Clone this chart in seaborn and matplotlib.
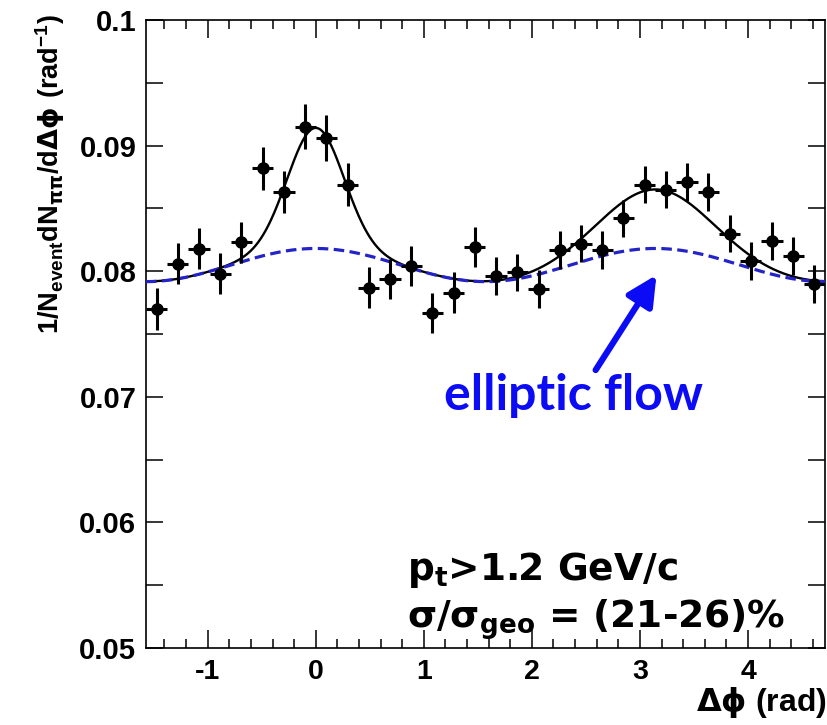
import numpy as np
import pandas as pd
import matplotlib
matplotlib.use("Agg")
import matplotlib.pyplot as plt
from matplotlib.ticker import FixedLocator, FixedFormatter, MultipleLocator
import seaborn as sns

# ---- binning of the azimuthal pair correlation: 32 bins over [-pi/2, 3pi/2)
n_bins = 32
phi_lo = -np.pi / 2
phi_hi = 3 * np.pi / 2

# per-event pi-pi pair yield in each bin and its statistical error
pair_yield = [
    0.0770, 0.0806, 0.0818, 0.0798, 0.0823, 0.0882, 0.0863, 0.0915,
    0.0906, 0.0869, 0.0787, 0.0794, 0.0804, 0.0767, 0.0783, 0.0819,
    0.0796, 0.0799, 0.0786, 0.0817, 0.0822, 0.0817, 0.0842, 0.0869,
    0.0865, 0.0871, 0.0863, 0.0830, 0.0808, 0.0824, 0.0812, 0.0790,
]
pair_yield_err = [
    0.00166, 0.00165, 0.00165, 0.00165, 0.00165, 0.00170, 0.00170, 0.00180,
    0.00180, 0.00170, 0.00160, 0.00160, 0.00160, 0.00160, 0.00160, 0.00160,
    0.00150, 0.00150, 0.00150, 0.00150, 0.00150, 0.00150, 0.00150, 0.00150,
    0.00150, 0.00150, 0.00150, 0.00150, 0.00150, 0.00150, 0.00150, 0.00150,
]

# fit: elliptic-flow modulated background + near- and away-side Gaussians
flow_base = 0.08049
flow_cos2 = 0.00132
near_amp, near_width = 0.0096, 0.26
away_amp, away_width = 0.0047, 0.50

y_ticks = [0.05, 0.06, 0.07, 0.08, 0.09, 0.1]
y_tick_labels = ["0.05", "0.06", "0.07", "0.08", "0.09", "0.1"]
x_ticks = [-1, 0, 1, 2, 3, 4]
x_tick_labels = ["-1", "0", "1", "2", "3", "4"]

label_ylab = (r"$\mathbf{1/N_{event}dN}_{\pi\pi}\mathbf{/d}\Delta\phi\ "
              r"\mathbf{(rad^{-1})}$")
label_xlab = r"$\Delta\phi$ (rad)"
label_flow = "elliptic flow"
label_cut1 = r"$\mathbf{p_t}$>1.2 GeV/c"
label_cut2 = r"$\mathbf{\sigma/\sigma_{geo}}$ = (21-26)%"

# ---------------------------------------------------------------------------
sns.set_style("ticks")
plt.rcParams.update({
    "font.family": ["Liberation Sans", "DejaVu Sans"],
    "font.weight": "bold",
    "text.color": "black",
    "axes.labelcolor": "black",
    "xtick.color": "black",
    "ytick.color": "black",
    "axes.edgecolor": "black",
    "axes.unicode_minus": False,
    "mathtext.fontset": "custom",
    "mathtext.rm": "DejaVu Sans",
    "mathtext.it": "DejaVu Sans",
    "mathtext.bf": "Liberation Sans:bold",
})

W, H = 828, 725
fig = plt.figure(figsize=(W / 100, H / 100), dpi=100)
fig.patch.set_facecolor("white")
ax = fig.add_axes([146 / W, 1 - 648 / H, (825 - 146) / W, 628 / H])

edges = np.linspace(phi_lo, phi_hi, n_bins + 1)
centers = 0.5 * (edges[:-1] + edges[1:])
half_bin = 0.5 * (edges[1] - edges[0])

grid = np.linspace(phi_lo, phi_hi, 800)
flow = flow_base + flow_cos2 * np.cos(2 * grid)
jets = np.zeros_like(grid)
for k in (-1, 0, 1):
    shift = 2 * np.pi * k
    jets += near_amp * np.exp(-(grid - shift) ** 2 / (2 * near_width ** 2))
    jets += away_amp * np.exp(-(grid - np.pi - shift) ** 2 / (2 * away_width ** 2))
curves = pd.DataFrame({"dphi": grid, "flow": flow, "total": flow + jets})

sns.lineplot(data=curves, x="dphi", y="total", ax=ax, color="black",
             lw=1.7, estimator=None, zorder=3)
sns.lineplot(data=curves, x="dphi", y="flow", ax=ax, color="#2323c8",
             lw=2.3, estimator=None, zorder=4, linestyle=(0, (3.3, 1.7)))

ax.errorbar(centers, pair_yield, yerr=pair_yield_err, xerr=half_bin,
            fmt="none", ecolor="black", elinewidth=2.2, capsize=0, zorder=5)
pts = pd.DataFrame({"dphi": centers, "y": pair_yield})
sns.scatterplot(data=pts, x="dphi", y="y", ax=ax, s=82, color="black",
                edgecolor="black", linewidth=0, zorder=6)

ax.set_xlim(phi_lo, phi_hi)
ax.set_ylim(0.05, 0.1)
ax.set_xlabel("")
ax.set_ylabel("")

ax.yaxis.set_major_locator(FixedLocator(y_ticks))
ax.yaxis.set_major_formatter(FixedFormatter(y_tick_labels))
ax.yaxis.set_minor_locator(MultipleLocator(0.005))
ax.xaxis.set_major_locator(FixedLocator(x_ticks))
ax.xaxis.set_major_formatter(FixedFormatter(x_tick_labels))
ax.xaxis.set_minor_locator(MultipleLocator(0.2))

ax.tick_params(axis="both", which="both", direction="in", top=True, right=True,
               color="black", width=1.1, labelcolor="black")
ax.tick_params(axis="y", which="both", length=12, pad=7, labelsize=21)
ax.tick_params(axis="x", which="major", length=13, pad=8, labelsize=20.5)
ax.tick_params(axis="x", which="minor", length=6.5)
for lab in ax.get_xticklabels() + ax.get_yticklabels():
    lab.set_fontweight("bold")
for sp in ax.spines.values():
    sp.set_linewidth(1.2)
    sp.set_color("black")

# axis titles
fig.text(50 / W, 1 - 14 / H, label_ylab, rotation=90, ha="center", va="top",
         fontsize=19.5, fontweight="bold", color="black")
fig.text(827 / W, 1 - 702 / H, label_xlab, ha="right", va="center",
         fontsize=23, fontweight="bold", color="black")

# flow annotation with arrow
blue = "#0b0bf5"
ax.annotate("", xy=(3.153, 0.0797), xytext=(2.59, 0.07213),
            arrowprops=dict(arrowstyle="-|>,head_length=0.9,head_width=0.45",
                            color=blue, lw=4.5, mutation_scale=20,
                            shrinkA=0, shrinkB=0), zorder=7)
ax.text(2.382, 0.06895, label_flow, color=blue, fontsize=36,
        fontfamily="Lato", fontweight="bold", ha="center", va="baseline",
        zorder=7)

# selection cuts
ax.text(0.843, 0.05541, label_cut1, fontsize=27, fontfamily="DejaVu Sans",
        fontweight="bold", math_fontfamily="dejavusans", ha="left",
        va="baseline", color="black", zorder=7)
ax.text(0.843, 0.05159, label_cut2, fontsize=27, fontfamily="DejaVu Sans",
        fontweight="bold", math_fontfamily="dejavusans", ha="left",
        va="baseline", color="black", zorder=7)

fig.savefig("out.png", dpi=100, facecolor="white")
